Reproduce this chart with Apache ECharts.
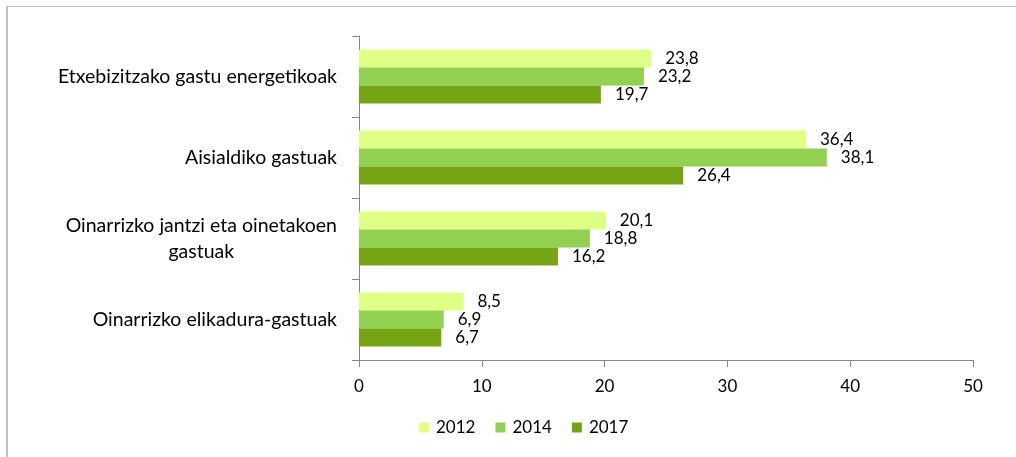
<!DOCTYPE html>
<html>
<head>
<meta charset="utf-8">
<script src="https://cdn.jsdelivr.net/npm/echarts@6/dist/echarts.min.js"></script>
<style>
  html, body { margin: 0; padding: 0; background: #fff; }
  #chart { width: 1016px; height: 457px; }
</style>
</head>
<body>
<div id="chart"></div>
<script>
const categories = [
  'Etxebizitzako gastu energetikoak',
  'Aisialdiko gastuak',
  'Oinarrizko jantzi eta oinetakoen\ngastuak',
  'Oinarrizko elikadura-gastuak',
]
const years = ['2012', '2014', '2017']
const values2012 = [23.8, 36.4, 20.1, 8.5]
const values2014 = [23.2, 38.1, 18.8, 6.9]
const values2017 = [19.7, 26.4, 16.2, 6.7]
const xTicks = [0, 10, 20, 30, 40, 50]

const colors = ['#DFFF85', '#92D050', '#76A514']
const FONT = 'Lato'
const CAT_SIZE = 19.5
const NUM_SIZE = 17

// width of the first line, used to centre the wrapped label's second line
function textWidth(str) {
  const ctx = document.createElement('canvas').getContext('2d')
  ctx.font = CAT_SIZE + 'px ' + FONT
  return ctx.measureText(str).width
}

const chart = echarts.init(document.getElementById('chart'))

function makeSeries(name, data, i) {
  return {
    name,
    type: 'bar',
    data,
    barWidth: 18,
    barGap: '0%',
    itemStyle: { color: colors[i] },
    label: {
      show: true,
      position: 'right',
      distance: 14,
      color: '#000',
      fontFamily: FONT,
      fontSize: NUM_SIZE,
      formatter: (p) => p.value.toFixed(1).replace('.', ','),
    },
  }
}

chart.setOption({
  animation: false,
  textStyle: { fontFamily: FONT },
  grid: { left: 359, top: 36, right: 43, bottom: 97, containLabel: false },
  legend: {
    left: 414,
    top: 414,
    itemWidth: 10,
    itemHeight: 10,
    itemGap: 20,
    icon: 'rect',
    textStyle: { fontSize: NUM_SIZE, color: '#000', fontFamily: FONT, padding: [0, 0, 0, 2] },
    data: years,
  },
  xAxis: {
    type: 'value',
    min: xTicks[0],
    max: xTicks[xTicks.length - 1],
    interval: 10,
    splitLine: { show: false },
    axisLine: { show: true, lineStyle: { color: '#868686', width: 1 } },
    axisTick: { show: true, length: 7, lineStyle: { color: '#868686' } },
    axisLabel: { color: '#000', fontSize: NUM_SIZE, fontFamily: FONT, margin: 18 },
  },
  yAxis: {
    type: 'category',
    inverse: true,
    data: categories,
    axisLine: { show: true, lineStyle: { color: '#868686', width: 1 } },
    axisTick: { show: true, length: 7, lineStyle: { color: '#868686' } },
    axisLabel: {
      color: '#000',
      fontSize: CAT_SIZE,
      fontFamily: FONT,
      margin: 22,
      lineHeight: 26,
      formatter: (v) => {
        if (v.indexOf('\n') < 0) return v
        const [a, b] = v.split('\n')
        return a + '\n{c|' + b + '}'
      },
      rich: {
        c: {
          width: textWidth('Oinarrizko jantzi eta oinetakoen'),
          align: 'center',
          fontSize: CAT_SIZE,
          fontFamily: FONT,
          color: '#000',
          lineHeight: 26,
        },
      },
    },
  },
  series: [
    makeSeries(years[0], values2012, 0),
    makeSeries(years[1], values2014, 1),
    makeSeries(years[2], values2017, 2),
  ],
  graphic: [
    { type: 'line', shape: { x1: 7, y1: 6, x2: 7, y2: 457 }, style: { stroke: '#BFBFBF', lineWidth: 2 } },
    { type: 'line', shape: { x1: 6, y1: 6.5, x2: 1016, y2: 6.5 }, style: { stroke: '#BFBFBF', lineWidth: 1 } },
  ],
})
</script>
</body>
</html>
